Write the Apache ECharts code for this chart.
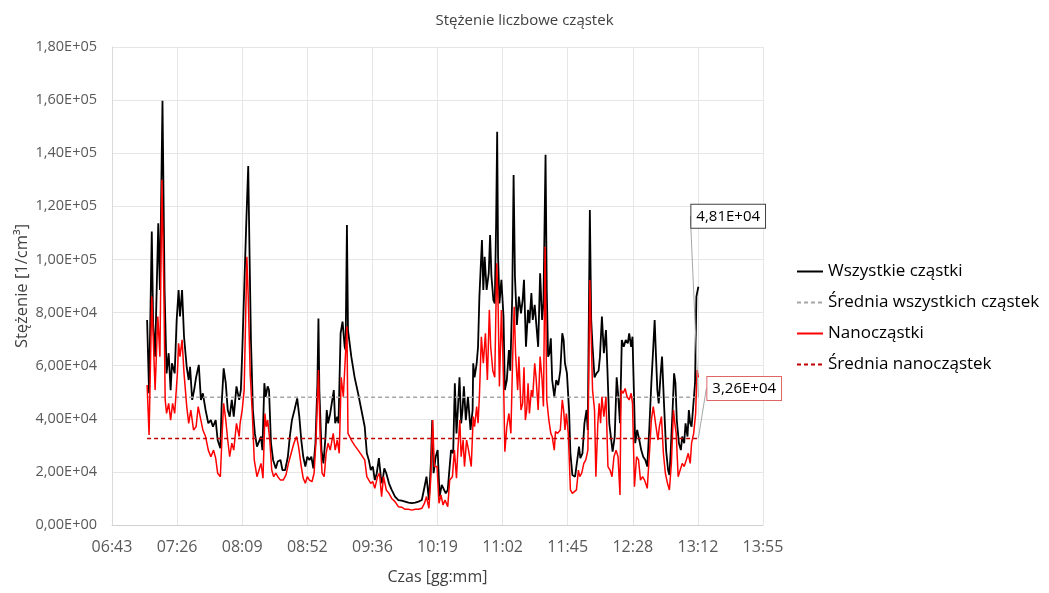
<!DOCTYPE html>
<html>
<head>
<meta charset="utf-8">
<script src="https://cdn.jsdelivr.net/npm/echarts@6/dist/echarts.min.js"></script>
<style>
html, body { margin: 0; padding: 0; background: #fff; }
#main { width: 1049px; height: 593px; }
</style>
</head>
<body>
<div id="main"></div>
<script>
// czas pomiaru w minutach od północy, stężenie w 1/cm3
var allMin = [426.5, 427.8, 429.6, 430.5, 431.8, 433.9, 435.0, 436.7, 438.1, 439.4, 440.8, 442.1, 443.0, 444.8, 446.1, 447.4, 448.3, 449.7, 451.0, 452.8,
  454.1, 455.0, 456.4, 457.7, 459.0, 460.8, 462.2, 463.5, 465.3, 467.1, 468.8, 470.2, 472.0, 473.3, 475.1, 476.0, 477.3, 478.7, 480.0, 481.3,
  482.7, 484.0, 485.8, 487.6, 488.7, 489.6, 490.9, 492.3, 493.6, 494.5, 495.4, 496.7, 498.0, 499.4, 500.7, 502.1, 503.0, 504.3, 505.2, 506.5,
  507.4, 508.7, 510.1, 511.9, 513.2, 515.0, 516.3, 518.1, 519.9, 521.2, 522.6, 524.3, 526.1, 527.5, 528.8, 530.1, 531.5, 532.8, 534.2, 535.5,
  536.8, 538.2, 539.5, 540.2, 540.8, 542.2, 543.5, 544.9, 545.7, 546.6, 548.0, 550.4, 551.3, 552.7, 553.5, 554.9, 556.2, 557.6, 558.2, 559.1,
  559.8, 562.0, 564.2, 566.5, 568.7, 570.9, 572.3, 573.6, 574.9, 576.3, 577.6, 578.9, 580.3, 581.6, 582.5, 583.9, 585.2, 587.0, 588.8, 591.0,
  593.2, 595.4, 597.7, 599.9, 602.1, 604.4, 606.6, 608.8, 610.6, 611.9, 613.5, 614.8, 615.7, 616.6, 618.0, 619.3, 620.6, 622.0, 623.3, 624.7,
  626.0, 626.9, 628.2, 629.6, 630.7, 631.8, 632.7, 633.8, 634.9, 635.8, 636.7, 638.0, 639.4, 641.1, 642.5, 642.9, 643.8, 645.2, 646.1, 647.0,
  647.8, 648.7, 649.6, 650.5, 651.8, 653.2, 654.1, 655.0, 656.3, 657.2, 658.1, 658.8, 659.4, 660.3, 661.6, 663.0, 663.9, 665.2, 666.6, 667.5,
  668.8, 669.7, 670.6, 671.9, 673.2, 674.6, 675.7, 676.6, 677.9, 679.3, 680.2, 681.5, 682.4, 683.7, 684.6, 686.0, 687.3, 688.6, 689.5, 690.9,
  691.7, 692.6, 693.5, 694.4, 695.3, 696.7, 698.0, 699.3, 700.7, 702.0, 702.9, 703.8, 705.1, 706.5, 707.4, 708.7, 710.5, 711.8, 713.1, 714.0,
  715.4, 716.7, 718.1, 718.9, 720.3, 721.2, 722.1, 723.4, 724.7, 726.1, 727.0, 728.3, 729.6, 731.0, 731.9, 733.2, 734.5, 735.4, 736.8, 738.1,
  739.0, 740.3, 741.5, 742.8, 744.1, 745.5, 746.4, 747.7, 748.6, 749.5, 750.4, 751.7, 753.1, 754.4, 755.7, 757.1, 758.4, 759.7, 761.1, 762.4,
  763.3, 764.2, 765.1, 766.0, 767.3, 768.2, 769.5, 770.9, 772.2, 773.1, 774.0, 775.3, 776.2, 777.1, 778.0, 779.4, 780.7, 781.6, 782.9, 783.8,
  785.1, 786.0, 786.9, 787.8, 788.7, 790.1, 791.0, 792.3];
var allVal = [77200, 49600, 110500, 76000, 63400, 113600, 88500, 159800, 88500, 57100, 64700, 50800, 60900, 57100, 77000, 88500, 78500, 88500, 70900, 59400,
  54600, 59600, 47100, 50800, 55600, 60300, 47100, 49600, 43300, 38300, 39500, 37000, 39500, 32000, 28900, 45800, 59000, 53400, 43300, 40800,
  47100, 40800, 52200, 47100, 50800, 64700, 64700, 113600, 135200, 101000, 69700, 43300, 34500, 29500, 28900, 33300, 28200, 53400, 48300, 52200,
  50800, 30800, 24500, 21300, 23900, 24500, 20700, 20700, 25700, 33300, 39500, 43300, 47700, 40800, 32000, 25700, 22000, 25700, 24500, 25700,
  21300, 30800, 53400, 77800, 50800, 28200, 23200, 33300, 43300, 38300, 42000, 50800, 38300, 40800, 38300, 72200, 76600, 67100, 65900, 113000,
  73400, 63400, 55600, 49600, 43300, 37000, 27000, 24500, 20700, 22000, 16900, 19500, 25200, 18200, 15700, 21300, 19500, 15700, 13200, 10700,
  9400, 9200, 8800, 8400, 8200, 8400, 8800, 9400, 14400, 18200, 9400, 23200, 39500, 19500, 25700, 28200, 10700, 15100, 15700, 11900,
  13200, 19500, 28200, 27000, 53400, 34500, 43300, 55600, 38300, 43300, 52200, 39500, 48300, 35800, 43300, 60900, 55600, 60900, 67100, 86000,
  86000, 107300, 88500, 101000, 88500, 94800, 109200, 93600, 84700, 83400, 113600, 148100, 101000, 83400, 92300, 78500, 50800, 54600, 65900, 58100,
  86000, 131800, 93600, 75300, 86000, 79700, 84700, 92300, 67100, 81000, 76000, 87300, 77200, 82900, 82200, 67100, 94800, 77200, 83400, 139400,
  88500, 63400, 64700, 70300, 54600, 48300, 54600, 52700, 58100, 72200, 69700, 60900, 57100, 43300, 27000, 18800, 18200, 18200, 29500, 25200,
  27000, 38300, 43300, 35800, 118600, 77200, 67100, 55600, 57100, 58100, 63400, 78500, 64700, 73400, 59400, 38300, 32000, 27600, 33300, 55600,
  49600, 38300, 69700, 67100, 69700, 68400, 72200, 67100, 70900, 50800, 30800, 35800, 32000, 28200, 25700, 24500, 22000, 35800, 53400, 67100,
  77200, 63400, 50800, 45800, 57100, 63400, 45800, 28200, 20700, 18800, 28200, 44600, 57100, 53400, 39500, 30800, 28200, 33300, 30800, 38300,
  33300, 43300, 38300, 37000, 43300, 53400, 86000, 89700];

var nanoMin = [426.5, 427.8, 429.6, 431.0, 431.8, 433.6, 435.0, 436.3, 437.6, 438.5, 439.4, 440.8, 442.1, 443.4, 444.8, 446.6, 447.4, 448.3, 449.7, 451.0,
  452.8, 454.1, 455.5, 457.3, 459.0, 460.4, 461.7, 463.5, 465.3, 467.1, 468.8, 470.6, 472.0, 473.3, 475.1, 476.4, 477.3, 478.7, 480.0, 481.3,
  482.7, 484.0, 485.8, 487.6, 488.2, 489.6, 490.9, 492.7, 493.6, 494.9, 496.3, 497.6, 499.4, 500.7, 502.1, 503.4, 504.7, 505.6, 506.5, 507.9,
  509.2, 510.5, 511.9, 513.2, 515.0, 516.8, 518.6, 520.3, 522.1, 523.9, 525.7, 527.0, 528.8, 530.1, 531.5, 532.8, 534.2, 535.9, 537.3, 538.6,
  540.2, 541.3, 542.6, 544.0, 545.3, 546.6, 548.0, 550.0, 551.3, 552.7, 554.0, 555.3, 556.7, 557.6, 559.1, 559.8, 562.0, 564.2, 566.5, 568.7,
  570.9, 572.3, 573.6, 574.9, 576.3, 577.6, 579.4, 580.7, 582.1, 583.4, 585.2, 587.0, 588.8, 591.0, 593.2, 595.4, 597.7, 599.9, 602.1, 604.4,
  606.6, 608.8, 610.6, 611.9, 613.5, 614.8, 616.0, 617.1, 618.9, 620.2, 621.5, 622.9, 624.2, 626.0, 627.3, 629.1, 630.4, 631.8, 632.7, 634.0,
  634.9, 636.2, 637.1, 638.5, 639.8, 641.6, 642.9, 643.8, 645.2, 646.1, 647.0, 648.3, 649.6, 651.0, 652.3, 653.6, 654.5, 655.9, 657.2, 658.5,
  659.4, 660.3, 661.6, 663.0, 663.9, 665.2, 666.6, 667.9, 669.2, 670.1, 671.0, 672.4, 673.2, 674.6, 675.7, 676.6, 677.5, 678.4, 679.3, 680.2,
  681.5, 682.4, 683.7, 684.6, 686.0, 687.3, 688.6, 689.5, 690.6, 691.7, 693.1, 694.4, 695.3, 696.7, 697.5, 698.9, 700.7, 702.0, 702.9, 703.8,
  704.7, 706.0, 707.4, 708.7, 710.0, 711.4, 712.7, 713.6, 714.9, 716.3, 717.6, 719.0, 720.3, 721.2, 722.1, 723.4, 724.3, 725.6, 726.5, 727.4,
  728.3, 729.6, 731.0, 732.3, 733.7, 735.0, 736.3, 737.7, 739.0, 740.3, 741.0, 742.4, 743.7, 745.0, 746.4, 747.7, 748.6, 749.9, 751.3, 752.6,
  753.9, 755.3, 756.6, 758.4, 759.7, 761.1, 762.4, 763.3, 764.2, 765.5, 766.4, 767.8, 769.1, 770.4, 771.8, 773.1, 774.4, 775.8, 776.7, 777.6,
  778.9, 780.2, 781.6, 782.9, 784.3, 785.6, 786.9, 787.8, 789.2, 790.5, 791.4, 792.3];
var nanoVal = [52700, 33900, 86000, 63400, 50800, 78500, 63400, 130000, 88500, 47100, 42000, 45800, 39500, 45800, 42000, 57100, 68400, 63400, 69700, 57100,
  44600, 38300, 43300, 35800, 37000, 44600, 40800, 35800, 33300, 28200, 25700, 28200, 25200, 19500, 18200, 35800, 45800, 39500, 32000, 25700,
  30800, 28200, 38300, 33300, 38300, 43300, 50800, 101000, 86000, 57100, 42000, 24500, 18200, 18200, 23200, 17600, 42000, 37000, 39500, 32000,
  20700, 18200, 19500, 18200, 16900, 16900, 18800, 23200, 27000, 30800, 33300, 29500, 22000, 17600, 15700, 18200, 16900, 16300, 19500, 32000,
  58400, 33300, 19500, 18200, 27000, 30800, 28200, 34500, 28200, 32000, 27000, 55600, 48300, 47700, 74700, 34500, 32000, 30000, 28200, 26400,
  24500, 18200, 17600, 15700, 16300, 13800, 18200, 19500, 10700, 18200, 13200, 11900, 10000, 8800, 6900, 6700, 5900, 5900, 5600, 5900,
  5900, 6300, 8200, 10700, 6300, 18200, 39500, 22000, 22000, 8200, 11300, 7500, 9400, 6900, 16900, 18200, 28200, 17600, 28200, 39500,
  25700, 32000, 22000, 32000, 28200, 22000, 40800, 37000, 44600, 38300, 48300, 70900, 60900, 72200, 54600, 81000, 67100, 58100, 55600, 98600,
  83400, 52200, 81000, 55600, 27600, 37000, 42000, 34500, 65900, 82200, 64700, 50800, 63400, 43300, 45800, 59400, 39500, 43300, 53400, 42000,
  50800, 48300, 60900, 55600, 43300, 63400, 54600, 44600, 104800, 47100, 39500, 34500, 33300, 28200, 35200, 34500, 35800, 47100, 43300, 35800,
  42000, 34500, 13200, 11900, 12600, 13200, 20700, 18200, 19500, 23200, 24500, 28200, 92300, 70900, 50800, 43300, 18200, 38300, 45800, 38300,
  48300, 40800, 48300, 22000, 20700, 18200, 25700, 28200, 25700, 11300, 50800, 49600, 51400, 48300, 47100, 49600, 45800, 14400, 25700, 24500,
  16900, 18200, 16900, 13800, 25700, 39500, 44600, 44600, 37000, 32000, 37000, 40800, 27000, 19500, 15700, 13200, 23200, 43300, 38300, 34500,
  18200, 17600, 23200, 22000, 24500, 27000, 23200, 30800, 34500, 42000, 58400, 55600];

var avgAll = 48100;
var avgNano = 32600;

// oś czasu: 06:43:12 – 13:55:12, co 43,2 min (0,03 doby)
var axisStart = 403.2;
var axisEnd = 835.2;
var axisStep = 43.2;

function sci(v) {
  if (v === 0) return '0,00E+00';
  var e = Math.floor(Math.log10(Math.abs(v)));
  var m = v / Math.pow(10, e);
  if (Math.round(m * 100) >= 1000) { m = m / 10; e = e + 1; }
  var ea = Math.abs(e);
  return m.toFixed(2).replace('.', ',') + 'E' + (e < 0 ? '-' : '+') + (ea < 10 ? '0' : '') + ea;
}

function hhmm(min) {
  var s = Math.round(min * 60);
  var h = Math.floor(s / 3600);
  var m = Math.floor((s % 3600) / 60);
  return (h < 10 ? '0' : '') + h + ':' + (m < 10 ? '0' : '') + m;
}

function pairs(t, v) {
  return t.map(function (x, i) { return [x - axisStart, v[i]]; });
}

function avgLine(t, v) {
  return [
    [t[0] - axisStart, v],
    { value: [t[t.length - 1] - axisStart, v], symbol: 'circle', symbolSize: 0, label: { show: true } }
  ];
}

var font = 'Open Sans';
var myChart = echarts.init(document.getElementById('main'));

myChart.setOption({
  animation: false,
  textStyle: { fontFamily: font },
  title: {
    text: 'Stężenie liczbowe cząstek',
    left: 'center',
    top: 8,
    textStyle: { fontSize: 15, fontWeight: 'normal', color: '#404040', fontFamily: font }
  },
  legend: {
    orient: 'vertical',
    left: 791,
    top: 258,
    itemWidth: 26,
    itemHeight: 14,
    itemGap: 14,
    itemStyle: { opacity: 0 },
    textStyle: { fontSize: 17, color: '#000', fontFamily: font },
    data: ['Wszystkie cząstki', 'Średnia wszystkich cząstek', 'Nanocząstki', 'Średnia nanocząstek']
  },
  grid: { left: 112, top: 47, right: 286, bottom: 68 },
  xAxis: {
    type: 'value',
    min: 0,
    max: axisEnd - axisStart,
    interval: axisStep,
    name: 'Czas [gg:mm]',
    nameLocation: 'middle',
    nameGap: 44,
    nameTextStyle: { fontSize: 16, color: '#404040' },
    axisLine: { show: true, lineStyle: { color: '#d0d0d0' } },
    axisTick: { show: false },
    axisLabel: {
      formatter: function (v) { return hhmm(v + axisStart); },
      color: '#595959',
      fontSize: 16,
      margin: 14
    },
    splitLine: { show: true, lineStyle: { color: '#e6e6e6' } }
  },
  yAxis: {
    type: 'value',
    min: 0,
    max: 180000,
    interval: 20000,
    name: 'Stężenie [1/cm³]',
    nameLocation: 'middle',
    nameGap: 81,
    nameMoveOverlap: false,
    nameTextStyle: { fontSize: 16.5, color: '#404040' },
    axisLine: { show: true, lineStyle: { color: '#d9d9d9' } },
    axisTick: { show: false },
    axisLabel: { formatter: sci, color: '#595959', fontSize: 14.5, margin: 15 },
    splitLine: { lineStyle: { color: '#e6e6e6' } }
  },
  series: [
    {
      name: 'Wszystkie cząstki',
      type: 'line',
      symbol: 'none',
      color: '#000000',
      lineStyle: { color: '#000000', width: 1.8 },
      data: pairs(allMin, allVal)
    },
    {
      name: 'Średnia wszystkich cząstek',
      type: 'line',
      symbol: 'none',
      color: '#a6a6a6',
      lineStyle: { color: '#a6a6a6', width: 1.3, type: [4, 3] },
      data: avgLine(allMin, avgAll),
      label: {
        show: false,
        position: 'right',
        formatter: function (p) { return sci(p.value[1]); },
        fontSize: 15,
        color: '#000',
        backgroundColor: '#fff',
        borderColor: '#404040',
        borderWidth: 1,
        padding: [4, 5]
      },
      labelLayout: { dx: -12, dy: -181 },
      labelLine: { show: true, lineStyle: { color: '#a6a6a6', width: 1 } }
    },
    {
      name: 'Nanocząstki',
      type: 'line',
      symbol: 'none',
      color: '#ff0000',
      lineStyle: { color: '#ff0000', width: 1.5 },
      data: pairs(nanoMin, nanoVal)
    },
    {
      name: 'Średnia nanocząstek',
      type: 'line',
      symbol: 'none',
      color: '#c00000',
      lineStyle: { color: '#c00000', width: 1.5, type: [4, 3] },
      data: avgLine(nanoMin, avgNano),
      label: {
        show: false,
        position: 'right',
        formatter: function (p) { return sci(p.value[1]); },
        fontSize: 15,
        color: '#000',
        backgroundColor: '#fff',
        borderColor: '#e06666',
        borderWidth: 1,
        padding: [4, 5]
      },
      labelLayout: { dx: 4, dy: -50 },
      labelLine: { show: true, lineStyle: { color: '#a6a6a6', width: 1 } }
    }
  ]
});
</script>
</body>
</html>
